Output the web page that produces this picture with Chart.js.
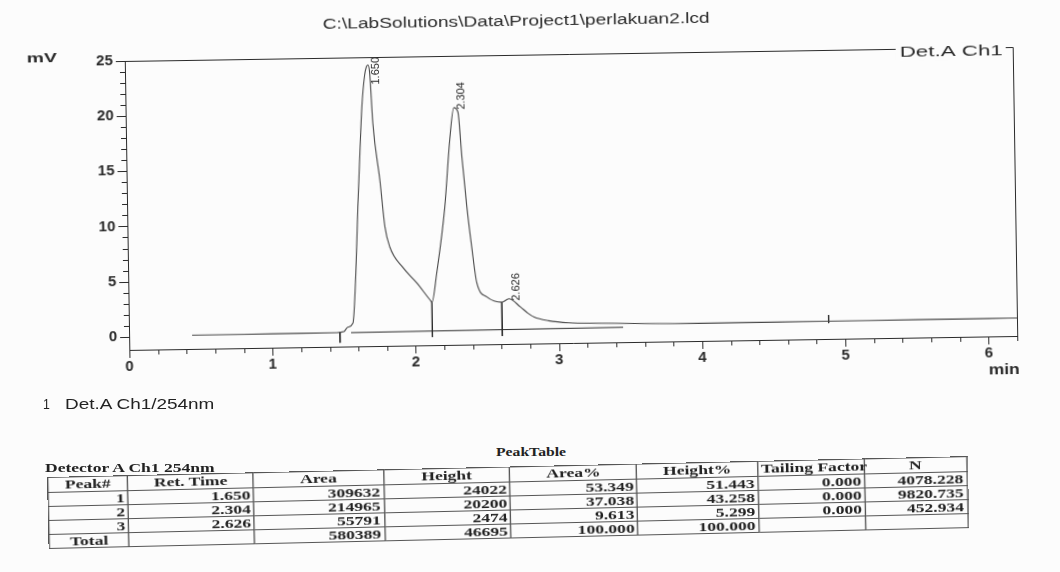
<!DOCTYPE html>
<html lang="en">
<head>
<meta charset="UTF-8">
<title>perlakuan2.lcd</title>
<script src="https://cdn.jsdelivr.net/npm/chart.js@4.4.1/dist/chart.umd.min.js"></script>
<style>
  html, body { margin: 0; padding: 0; background: #fcfcfc; }
  body { width: 1060px; height: 572px; position: relative; overflow: hidden; color: #222; }
  #chromatogram { position: absolute; left: 0; top: 0; transform-origin: 569.5px 198.5px; transform: rotate(-0.9deg); }
  .label { position: absolute; white-space: nowrap; transform-origin: 0 50%; }
  .sans { font: 14px "Liberation Sans", Arial, sans-serif; line-height: 16px; }
  .serif { font: bold 13px "Liberation Serif", "Times New Roman", serif; line-height: 15px; }
  #peak-table { position: absolute; left: 47px; top: 477px; border-collapse: collapse; table-layout: fixed;
    transform-origin: 0 0; transform: rotate(-1.3deg) scaleX(1.35);
    font: bold 13px "Liberation Serif", "Times New Roman", serif; color: #222; }
  #peak-table th, #peak-table td { border: 1px solid #555; padding: 0 2px; white-space: nowrap; overflow: visible; }
  #peak-table th { height: 14px; font-weight: bold; text-align: center; line-height: 14px; }
  #peak-table td { height: 13px; line-height: 13px; text-align: right; }
  #peak-table td.total { text-align: center; }
</style>
</head>
<body>
<canvas id="chromatogram" width="1060" height="395"></canvas>

<div id="lbl-chan-no" class="label sans">1</div>
<div id="lbl-chan" class="label sans">Det.A Ch1/254nm</div>
<div id="lbl-peaktable" class="label serif">PeakTable</div>
<div id="lbl-detector" class="label serif">Detector A Ch1 254nm</div>
<table id="peak-table"></table>

<script>
// signal trace, minutes / mV
const traceTime = [0.44, 0.80, 1.20, 1.45, 1.50, 1.527, 1.564, 1.59, 1.611, 1.632, 1.650, 1.672, 1.685, 1.696, 1.708,
  1.725, 1.768, 1.798, 1.830, 1.918, 2.015, 2.105, 2.118, 2.154, 2.218, 2.260, 2.292, 2.320, 2.343, 2.372, 2.402,
  2.433, 2.502, 2.606, 2.655, 2.735, 2.785, 2.83, 2.93, 3.07, 3.3, 3.6, 4.0, 4.5, 5.0, 5.5, 6.0, 6.2];
const traceSignal = [0.05, 0.05, 0.06, 0.07, 0.15, 0.55, 0.9, 5.5, 11.4, 16.5, 20.5, 23.3, 24.1, 24.3, 23.6,
  19.0, 13.8, 9.6, 7.75, 5.9, 4.45, 2.9, 2.7, 5.3, 11.3, 17.4, 20.3, 19.9, 15.8, 11.3, 7.6,
  4.4, 3.1, 2.6, 2.9, 2.14, 1.58, 1.2, 0.85, 0.63, 0.55, 0.45, 0.4, 0.4, 0.41, 0.42, 0.42, 0.43];

// apex positions as drawn, labels as printed
const peakApexTimes = [1.696, 2.292, 2.655];
const peakLabels = ['1.650', '2.304', '2.626'];

// integration baseline, drop lines and event marks
const baselineTime = [1.55, 3.45];
const baselineSignal = [0.05, 0.15];
const dropTimes = [2.118, 2.606];
const dropFloor = -0.47;
const eventTimes = [1.472, 4.885];
const eventTop = [0.1, 0.97];
const eventBottom = [-0.85, 0.24];

const xTicks = [0, 1, 2, 3, 4, 5, 6];
const yTicks = [0, 5, 10, 15, 20, 25];
const X_MIN = 0, X_MAX = 6.2, X_MINOR = 0.2;
const Y_MIN = -1.2, Y_MAX = 25, Y_MINOR = 1;

// peak table
const peakNo = ['1', '2', '3'];
const retTime = ['1.650', '2.304', '2.626'];
const area = ['309632', '214965', '55791'];
const height = ['24022', '20200', '2474'];
const areaPct = ['53.349', '37.038', '9.613'];
const heightPct = ['51.443', '43.258', '5.299'];
const tailing = ['0.000', '0.000', '0.000'];
const plates = ['4078.228', '9820.735', '452.934'];
const totalArea = '580389', totalHeight = '46695', totalPct = '100.000';
const tableHead = ['Peak#', 'Ret. Time', 'Area', 'Height', 'Area%', 'Height%', 'Tailing Factor', 'N'];

const INK = '#2a2a2a', TRACE = '#484848', PAPER = '#fcfcfc';
const SANS = '"Liberation Sans", Arial, sans-serif';
const STRETCH = 1.35;
const FRAME = { left: 127, right: 1015, top: 54, bottom: 343 };
const colWidths = [80, 126, 130, 127, 127, 121, 107, 102];

const signalAt = (t) => traceSignal[traceTime.indexOf(t)];
const pts = (xs, ys) => xs.map((x, i) => ({ x, y: ys[i] }));

// text is wider in the scan, stretch it to the measured width
function wideText(ctx, text, x, y, width, align) {
    const s = width / ctx.measureText(text).width;
    ctx.save();
    ctx.translate(x, y);
    ctx.scale(s, 1);
    ctx.textAlign = align;
    ctx.fillText(text, 0, 0);
    ctx.restore();
}

const frameAndMarks = {
    id: 'frameAndMarks',
    afterDatasetsDraw(chart) {
        const { ctx, chartArea: a, scales: { x, y } } = chart;
        ctx.save();
        ctx.strokeStyle = INK;
        ctx.lineWidth = 1;
        ctx.beginPath();
        ctx.moveTo(a.left, a.top + 0.5);
        ctx.lineTo(a.right + 0.5, a.top + 0.5);
        ctx.lineTo(a.right + 0.5, a.bottom);
        for (let i = 0; i * X_MINOR <= X_MAX + 1e-9; i++) {
            const v = i * X_MINOR;
            const px = Math.round(x.getPixelForValue(v)) + 0.5;
            const major = xTicks.some(t => Math.abs(t - v) < 1e-6);
            ctx.moveTo(px, a.bottom);
            ctx.lineTo(px, a.bottom + (major ? 8 : 5));
        }
        for (let i = 0; i * Y_MINOR <= Y_MAX + 1e-9; i++) {
            const v = i * Y_MINOR;
            const py = Math.round(y.getPixelForValue(v)) + 0.5;
            const major = yTicks.includes(v);
            ctx.moveTo(a.left, py);
            ctx.lineTo(a.left - (major ? 9 : 5), py);
        }
        ctx.stroke();

        // retention time labels, rotated
        ctx.fillStyle = INK;
        ctx.font = `11px ${SANS}`;
        ctx.textAlign = 'left';
        ctx.textBaseline = 'middle';
        peakApexTimes.forEach((t, i) => {
            const text = peakLabels[i];
            const len = ctx.measureText(text).width;
            const px = x.getPixelForValue(t) + 8;
            const py = y.getPixelForValue(signalAt(t));
            const start = Math.max(py + 2, a.top + len);
            ctx.save();
            ctx.translate(px, start);
            ctx.rotate(-Math.PI / 2);
            ctx.fillText(text, 0, 0);
            ctx.restore();
        });

        ctx.font = `14px ${SANS}`;
        wideText(ctx, 'C:\\LabSolutions\\Data\\Project1\\perlakuan2.lcd', 519, 21, 387, 'center');
        ctx.font = `bold 13px ${SANS}`;
        wideText(ctx, 'mV', 29, 50, 30, 'left');
        ctx.font = `15px ${SANS}`;
        ctx.fillStyle = PAPER;
        ctx.fillRect(898, 49, 110, 17);
        ctx.fillStyle = INK;
        wideText(ctx, 'Det.A Ch1', 902, 58, 103, 'left');
        ctx.font = `bold 14px ${SANS}`;
        wideText(ctx, 'min', a.right + 2, 377, 31, 'right');
        ctx.restore();
    }
};

const lineStyle = { borderColor: INK, borderWidth: 1, pointRadius: 0, tension: 0, fill: false };

const datasets = [
    { ...lineStyle, data: pts(traceTime, traceSignal), borderColor: TRACE, borderWidth: 1.1, cubicInterpolationMode: 'monotone' },
    { ...lineStyle, data: pts(baselineTime, baselineSignal) },
    ...dropTimes.map(t => ({ ...lineStyle, data: [{ x: t, y: signalAt(t) }, { x: t, y: dropFloor }] })),
    ...eventTimes.map((t, i) => ({ ...lineStyle, data: [{ x: t, y: eventTop[i] }, { x: t, y: eventBottom[i] }] })),
];

const canvas = document.getElementById('chromatogram');
const tickFont = { family: SANS, size: 15, weight: 'bold' };

new Chart(canvas, {
    type: 'line',
    data: { datasets },
    options: {
        responsive: false,
        animation: false,
        devicePixelRatio: 1,
        layout: { padding: { left: 0, top: FRAME.top, right: canvas.width - FRAME.right, bottom: 0 } },
        plugins: { legend: { display: false }, tooltip: { enabled: false } },
        scales: {
            x: {
                type: 'linear', min: X_MIN, max: X_MAX,
                afterBuildTicks: (s) => { s.ticks = xTicks.map(v => ({ value: v })); },
                afterFit: (s) => { s.height = canvas.height - FRAME.bottom; },
                ticks: { color: INK, font: tickFont, padding: 8, autoSkip: false, maxRotation: 0 },
                grid: { display: false, drawTicks: false },
                border: { display: true, color: INK, width: 1 }
            },
            y: {
                type: 'linear', min: Y_MIN, max: Y_MAX,
                afterBuildTicks: (s) => { s.ticks = yTicks.map(v => ({ value: v })); },
                afterFit: (s) => { s.width = FRAME.left; },
                ticks: { color: INK, font: tickFont, padding: 12, autoSkip: false },
                grid: { display: false, drawTicks: false },
                border: { display: true, color: INK, width: 1 }
            }
        }
    },
    plugins: [frameAndMarks]
});

function placeLabel(id, left, centerY, width) {
    const el = document.getElementById(id);
    el.style.left = left + 'px';
    el.style.top = (centerY - el.offsetHeight / 2) + 'px';
    el.style.transform = `scaleX(${width / el.offsetWidth})`;
}

function buildPeakTable() {
    const table = document.getElementById('peak-table');
    const sum = colWidths.reduce((a, w) => a + w, 0);
    table.style.width = (sum / STRETCH).toFixed(1) + 'px';
    const cols = colWidths.map(w => `<col style="width:${(w / sum * 100).toFixed(2)}%">`).join('');
    const head = `<tr>${tableHead.map(h => `<th>${h}</th>`).join('')}</tr>`;
    const rows = peakNo.map((n, i) => `<tr><td>${n}</td><td>${retTime[i]}</td><td>${area[i]}</td><td>${height[i]}</td>
        <td>${areaPct[i]}</td><td>${heightPct[i]}</td><td>${tailing[i]}</td><td>${plates[i]}</td></tr>`).join('');
    const total = `<tr><td class="total">Total</td><td></td><td>${totalArea}</td><td>${totalHeight}</td>
        <td>${totalPct}</td><td>${totalPct}</td><td></td><td></td></tr>`;
    table.innerHTML = `<colgroup>${cols}</colgroup><thead>${head}</thead><tbody>${rows}${total}</tbody>`;
}

placeLabel('lbl-chan-no', 43, 404, 7);
placeLabel('lbl-chan', 65, 404, 150);
placeLabel('lbl-peaktable', 496, 451, 70);
placeLabel('lbl-detector', 45, 467, 170);
buildPeakTable();
</script>
</body>
</html>
